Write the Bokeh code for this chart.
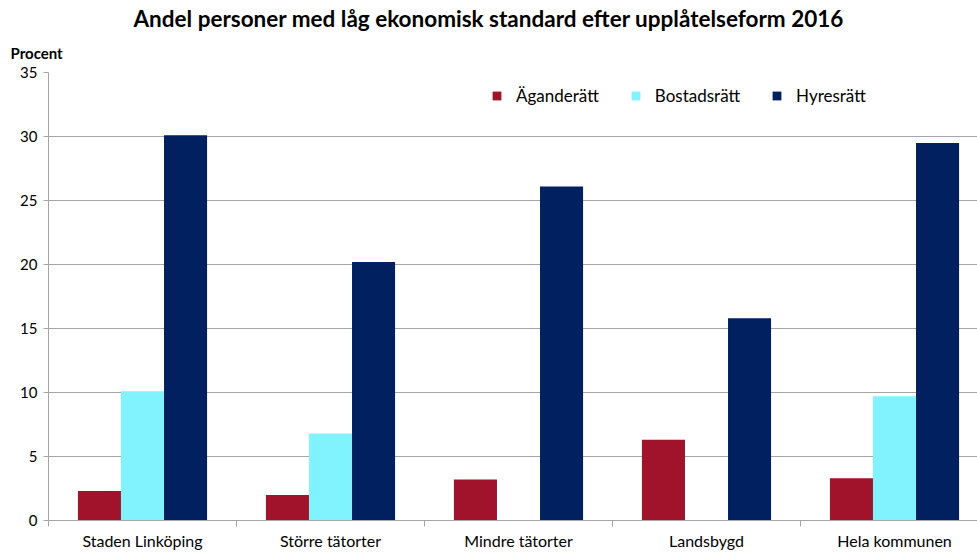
from bokeh.plotting import figure
from bokeh.models import FixedTicker, Legend, LegendItem, Range1d, ColumnDataSource, Title
from bokeh.embed import file_html
from bokeh.resources import INLINE

categories = ["Staden Linköping", "Större tätorter", "Mindre tätorter", "Landsbygd", "Hela kommunen"]
series = ["Äganderätt", "Bostadsrätt", "Hyresrätt"]
aganderatt = [2.3, 2.0, 3.2, 6.3, 3.3]
bostadsratt = [10.1, 6.8, float("nan"), float("nan"), 9.7]
hyresratt = [30.1, 20.2, 26.1, 15.8, 29.5]
colors = ["#A0132B", "#80F3FF", "#002060"]
y_ticks = [0, 5, 10, 15, 20, 25, 30, 35]

FONT = "Lato"
GRID = "#A6A6A6"

p = figure(width=977, height=552, output_backend="svg", toolbar_location=None,
           x_range=Range1d(0, 929 / 188), y_range=Range1d(0, 35),
           min_border_left=48, min_border_right=0, min_border_top=72, min_border_bottom=31)
p.outline_line_color = None
p.background_fill_color = "white"
p.border_fill_color = "white"

p.add_layout(Title(text="Procent", align="left", offset=-38, standoff=21,
                   text_font=FONT, text_font_size="15px", text_font_style="bold",
                   text_color="black"), "above")

p.title.text = "Andel personer med låg ekonomisk standard efter upplåtelseform 2016"
p.title.align = "left"
p.title.offset = 85
p.title.standoff = 0
p.title.text_line_height = 0.8
p.title.text_font = FONT
p.title.text_font_size = "22.5px"
p.title.text_font_style = "bold"
p.title.text_color = "black"

centers = [i + 0.5 for i in range(len(categories))]
bw = 0.229
offsets = [-bw, 0.0, bw]
data = [aganderatt, bostadsratt, hyresratt]
items = []
for name, vals, off, col in zip(series, data, offsets, colors):
    src = ColumnDataSource(dict(x=[c + off for c in centers], top=vals))
    r = p.vbar(x="x", top="top", bottom=0, width=bw, source=src, fill_color=col, line_color=None)
    items.append(LegendItem(label=name, renderers=[r]))

legend = Legend(items=items, orientation="horizontal", location=(443, 414),
                glyph_width=11, glyph_height=11, label_standoff=14, spacing=31,
                padding=0, margin=0, background_fill_alpha=0, border_line_color=None,
                label_text_font=FONT, label_text_font_size="17px", label_text_color="black")
p.add_layout(legend, "center")

# x axis
p.xaxis.ticker = FixedTicker(ticks=centers, minor_ticks=list(range(len(categories) + 1)))
p.xaxis.major_label_overrides = {c: lab for c, lab in zip(centers, categories)}
p.xaxis.major_tick_line_color = None
p.xaxis.major_tick_out = 0
p.xaxis.major_tick_in = 0
p.xaxis.minor_tick_line_color = GRID
p.xaxis.minor_tick_out = 6
p.xaxis.minor_tick_in = 0
p.xaxis.axis_line_color = GRID
p.xaxis.major_label_standoff = 4
p.xaxis.major_label_text_font = FONT
p.xaxis.major_label_text_font_size = "16px"
p.xaxis.major_label_text_color = "black"

# y axis
p.yaxis.ticker = FixedTicker(ticks=y_ticks)
p.yaxis.minor_tick_line_color = None
p.yaxis.major_tick_line_color = GRID
p.yaxis.major_tick_out = 5
p.yaxis.major_tick_in = 0
p.yaxis.axis_line_color = GRID
p.yaxis.major_label_standoff = 6
p.yaxis.major_label_text_font = FONT
p.yaxis.major_label_text_font_size = "15px"
p.yaxis.major_label_text_color = "black"

p.xgrid.grid_line_color = None
p.ygrid.grid_line_color = GRID
p.ygrid.grid_line_width = 1

open("out.html", "w").write(file_html(p, INLINE))
